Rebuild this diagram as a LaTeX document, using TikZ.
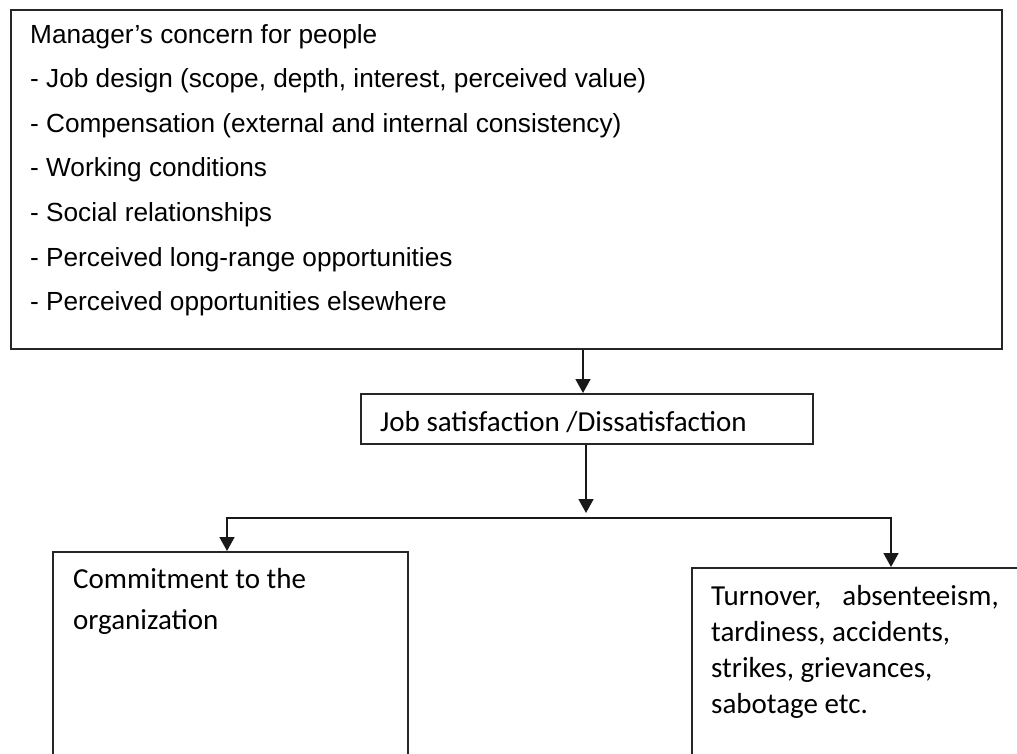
\documentclass[tikz,border=0pt]{standalone}
\usepackage{fontspec}
\setmainfont{Liberation Sans}
\newfontfamily\calibrif{Carlito}
\usetikzlibrary{arrows.meta}
\begin{document}
\begin{tikzpicture}[x=1pt,y=-1pt,
  box/.style={draw=black!85,line width=1.7pt,rectangle,inner sep=0pt,anchor=north west},
  txt/.style={anchor=base west,inner sep=0pt,font=\fontsize{26.2}{30}\selectfont},
  ctxt/.style={anchor=base west,inner sep=0pt,font=\calibrif\fontsize{29}{34}\selectfont},
  conn/.style={line width=1.7pt,draw=black!90},
  arr/.style={conn,-{Triangle[length=14pt,width=15pt]}}]
\useasboundingbox (0,0) rectangle (1017,754);
\clip (0,0) rectangle (1017,754);

% boxes
\node[box,minimum width=991pt,minimum height=339pt] (concern) at (10,9) {};
\node[box,minimum width=452pt,minimum height=50pt] (sat) at (360,393) {};
\node[box,minimum width=355pt,minimum height=240pt] (commit) at (52,551) {};
\node[box,minimum width=340pt,minimum height=230pt] (outcome) at (691,567) {};

% manager's concern list
\node[txt] (c0) at (30,44) {Manager’s concern for people};
\node[txt] (c1) at (30,88) {- Job design (scope, depth, interest, perceived value)};
\node[txt] (c2) at (30,132.5) {- Compensation (external and internal consistency)};
\node[txt] (c3) at (30,177) {- Working conditions};
\node[txt] (c4) at (30,221.5) {- Social relationships};
\node[txt] (c5) at (30,266) {- Perceived long-range opportunities};
\node[txt] (c6) at (30,310.5) {- Perceived opportunities elsewhere};

% job satisfaction
\node[ctxt] (s0) at (380,431) {Job satisfaction /Dissatisfaction};

% outcomes
\node[ctxt] (m0) at (73,588) {Commitment to the};
\node[ctxt] (m1) at (73,629) {organization};
\node[ctxt] (o0) at (711,605) {Turnover,\hspace{21pt}absenteeism,};
\node[ctxt] (o1) at (711,641) {tardiness, accidents,};
\node[ctxt] (o2) at (711,677) {strikes, grievances,};
\node[ctxt] (o3) at (711,713) {sabotage etc.};

% connectors
\coordinate (jx) at (583,0);
\coordinate (split) at (586,518);
\coordinate (lx) at (227,0);
\coordinate (rx) at (891,0);
\draw[arr] (concern.south -| jx) -- (sat.north -| jx);
\draw[arr] (sat.south -| split) -- ([yshift=5pt]split);
\draw[arr] (split) -| (commit.north -| lx);
\draw[arr] (split) -| (outcome.north -| rx);
\end{tikzpicture}
\end{document}
